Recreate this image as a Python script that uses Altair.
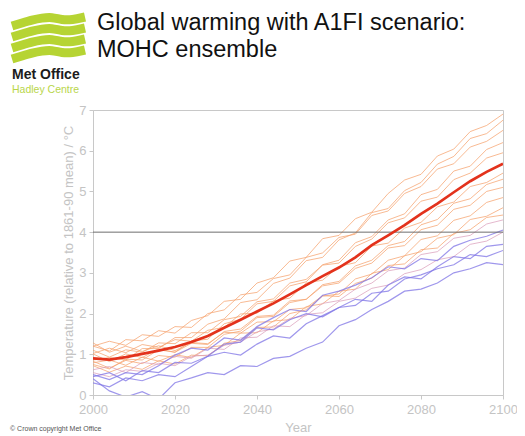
import altair as alt
import pandas as pd

# ---------------- data ----------------
years = [2000, 2004, 2008, 2012, 2016, 2020, 2024, 2028, 2032, 2036, 2040, 2044, 2048,
         2052, 2056, 2060, 2064, 2068, 2072, 2076, 2080, 2084, 2088, 2092, 2096, 2100]

ensemble_mean = [0.90, 0.87, 0.93, 1.01, 1.09, 1.18, 1.30, 1.45, 1.65, 1.85, 2.05, 2.25, 2.47,
                 2.70, 2.92, 3.13, 3.38, 3.68, 3.92, 4.17, 4.45, 4.70, 4.98, 5.25, 5.48, 5.68]

orange_members = {
    "m01": [1.20, 1.08, 1.36, 1.33, 1.58, 1.52, 1.83, 1.95, 2.30, 2.35, 2.75, 2.88, 3.29,
            3.38, 3.84, 3.92, 4.33, 4.49, 4.95, 5.28, 5.42, 5.87, 6.04, 6.47, 6.62, 6.90],
    "m02": [0.86, 0.92, 0.86, 1.14, 1.14, 1.41, 1.41, 1.74, 1.87, 2.27, 2.34, 2.74, 2.87,
            3.30, 3.38, 3.81, 3.98, 4.48, 4.58, 5.02, 5.22, 5.67, 5.86, 6.30, 6.42, 6.75],
    "m03": [1.20, 1.32, 1.22, 1.48, 1.44, 1.68, 1.66, 2.00, 2.09, 2.46, 2.52, 2.86, 2.95,
            3.38, 3.49, 3.87, 3.95, 4.41, 4.52, 4.95, 5.12, 5.55, 5.68, 6.09, 6.23, 6.50],
    "m04": [0.75, 0.64, 0.88, 0.86, 1.11, 1.05, 1.33, 1.37, 1.75, 1.86, 2.24, 2.30, 2.68,
            2.78, 3.20, 3.31, 3.74, 3.89, 4.30, 4.45, 4.92, 5.05, 5.50, 5.62, 6.03, 6.20],
    "m05": [1.10, 0.93, 1.11, 1.05, 1.28, 1.26, 1.53, 1.53, 1.85, 1.93, 2.29, 2.36, 2.75,
            2.84, 3.19, 3.24, 3.65, 3.83, 4.23, 4.35, 4.76, 4.86, 5.29, 5.45, 5.82, 5.95],
    "m06": [1.02, 1.15, 1.04, 1.24, 1.17, 1.36, 1.32, 1.59, 1.66, 1.99, 2.01, 2.31, 2.38,
            2.75, 2.82, 3.16, 3.25, 3.66, 3.73, 4.10, 4.24, 4.62, 4.74, 5.12, 5.22, 5.45],
    "m07": [0.83, 0.66, 0.85, 0.77, 0.97, 0.93, 1.17, 1.17, 1.49, 1.57, 1.90, 1.93, 2.27,
            2.35, 2.71, 2.79, 3.17, 3.31, 3.67, 3.77, 4.18, 4.31, 4.71, 4.82, 5.17, 5.30],
    "m08": [1.01, 0.82, 1.01, 0.92, 1.13, 1.05, 1.27, 1.24, 1.56, 1.62, 1.93, 1.96, 2.31,
            2.35, 2.68, 2.75, 3.11, 3.24, 3.61, 3.67, 4.06, 4.17, 4.56, 4.66, 5.00, 5.10],
    "m09": [0.72, 0.56, 0.71, 0.63, 0.84, 0.76, 0.98, 0.96, 1.27, 1.34, 1.66, 1.67, 2.00,
            2.09, 2.43, 2.48, 2.85, 2.97, 3.31, 3.42, 3.82, 3.91, 4.29, 4.40, 4.73, 4.85],
    "m10": [0.79, 0.86, 0.73, 0.93, 0.83, 0.99, 0.92, 1.17, 1.22, 1.52, 1.53, 1.82, 1.85,
            2.17, 2.24, 2.55, 2.60, 2.99, 3.08, 3.42, 3.52, 3.85, 3.94, 4.31, 4.39, 4.60],
    "m11": [1.28, 1.05, 1.20, 1.07, 1.21, 1.09, 1.29, 1.26, 1.54, 1.52, 1.79, 1.80, 2.10,
            2.14, 2.44, 2.42, 2.74, 2.87, 3.18, 3.22, 3.57, 3.61, 3.97, 4.06, 4.36, 4.42],
}

pink_members = {
    "p01": [0.55, 0.45, 0.62, 0.58, 0.78, 0.72, 0.95, 0.98, 1.22, 1.30, 1.55, 1.62, 1.88,
            1.95, 2.25, 2.32, 2.60, 2.75, 3.05, 3.12, 3.45, 3.52, 3.85, 3.92, 4.20, 4.30],
    "p02": [0.62, 0.70, 0.55, 0.80, 0.75, 0.95, 0.90, 1.15, 1.12, 1.40, 1.42, 1.70, 1.68,
            1.98, 2.02, 2.30, 2.38, 2.62, 2.70, 2.98, 3.08, 3.32, 3.40, 3.70, 3.78, 4.00],
}

blue_members = {
    "b01": [0.50, 0.38, 0.55, 0.50, 0.72, 0.98, 1.15, 1.10, 1.40, 1.35, 1.68, 1.90, 2.10,
            2.05, 2.45, 2.55, 2.70, 2.88, 3.15, 3.10, 3.35, 3.30, 3.65, 3.80, 3.90, 4.05],
    "b02": [0.30, 0.20, 0.42, 0.35, 0.50, 0.45, 0.70, 0.95, 1.25, 1.30, 1.65, 1.60, 1.85,
            2.00, 1.92, 2.15, 2.35, 2.30, 2.70, 2.90, 2.85, 3.15, 3.40, 3.35, 3.65, 3.70],
    "b03": [0.40, 0.10, -0.05, 0.08, -0.10, 0.30, 0.42, 0.55, 0.50, 0.72, 0.70, 0.90, 0.95,
            1.15, 1.30, 1.70, 1.85, 2.10, 2.30, 2.55, 2.60, 2.75, 3.00, 3.10, 3.25, 3.20],
    "b04": [0.45, 0.55, 0.35, 0.60, 0.55, 0.80, 0.78, 0.95, 1.05, 0.98, 1.25, 1.45, 1.40,
            1.75, 1.95, 2.15, 2.20, 2.50, 2.55, 2.85, 2.95, 3.10, 3.20, 3.45, 3.40, 3.55],
}

threshold = [4]
x_ticks = [2000, 2020, 2040, 2060, 2080, 2100]
y_ticks = [0, 1, 2, 3, 4, 5, 6, 7]

title_lines = ["Global warming with A1FI scenario:", "MOHC ensemble"]
y_title = "Temperature (relative to 1861-90 mean) / \u00b0C"
x_title = "Year"

# logo (decorative wavy bands), in logo-local units
logo_x = [0, 10, 20, 30, 40, 50, 60, 73]
logo_bands = {
    "w0": [13, 10, 7, 5, 4, 7, 7, 4],
    "w1": [24, 21, 18, 16, 15, 18, 18, 15],
    "w2": [35, 32, 29, 27, 26, 29, 29, 26],
    "w3": [46, 43, 40, 38, 37, 40, 40, 37],
}

# ---------------- tables ----------------
def long_table(members):
    rows = []
    for name, vals in members.items():
        for yr, v in zip(years, vals):
            rows.append({"member": name, "year": yr, "temp": v})
    return pd.DataFrame(rows)

df_orange = long_table(orange_members)
df_pink = long_table(pink_members)
df_blue = long_table(blue_members)
df_mean = pd.DataFrame({"year": years, "temp": ensemble_mean})
df_rule = pd.DataFrame({"temp": threshold})
df_logo = pd.DataFrame([{"band": b, "lx": x, "ly": y}
                        for b, ys in logo_bands.items() for x, y in zip(logo_x, ys)])

AX_GREY = "#c4c4c4"
FONT = "Liberation Sans"

xscale = alt.Scale(domain=[2000, 2100], nice=False, zero=False)
yscale = alt.Scale(domain=[0, 7], nice=False, zero=False)

x_axis = alt.Axis(values=x_ticks, format="d", title=x_title, tickSize=4,
                  labelPadding=4, titlePadding=5, labelFontSize=13,
                  titleFontSize=13, labelFlush=False)
y_axis = alt.Axis(values=y_ticks, title=y_title, tickSize=4, labelPadding=3,
                  titlePadding=3, labelFontSize=13, titleFontSize=13)

x_enc = alt.X("year:Q", scale=xscale, axis=x_axis)
y_enc = alt.Y("temp:Q", scale=yscale, axis=y_axis)

orange = alt.Chart(df_orange).mark_line(
    color="#f6a36f", strokeWidth=1, opacity=0.75, clip=True
).encode(x=x_enc, y=y_enc, detail="member:N")

pink = alt.Chart(df_pink).mark_line(
    color="#d99ab8", strokeWidth=1, opacity=0.7, clip=True
).encode(x=x_enc, y=y_enc, detail="member:N")

blue = alt.Chart(df_blue).mark_line(
    color="#7f74e6", strokeWidth=1.2, opacity=0.75, clip=True
).encode(x=x_enc, y=y_enc, detail="member:N")

rule = alt.Chart(df_rule).mark_rule(color="#6e6e6e", strokeWidth=1).encode(y=y_enc)

mean = alt.Chart(df_mean).mark_line(
    color="#e3321c", strokeWidth=2.7, clip=True
).encode(x=x_enc, y=y_enc)

plot = alt.layer(orange, pink, blue, rule, mean)

logo = alt.Chart(df_logo).mark_line(
    color="#b6d433", strokeWidth=9, interpolate="basis", strokeCap="butt"
).encode(
    x=alt.X("lx:Q", scale=alt.Scale(domain=[0, 73], range=[-81, -8]), axis=None),
    y=alt.Y("ly:Q", scale=alt.Scale(domain=[0, 50], range=[-97, -47]), axis=None),
    detail="band:N",
)

def text_layer(txt, x, y, size, color, weight="normal", font=FONT):
    return alt.Chart(pd.DataFrame({"t": [txt]})).mark_text(
        align="left", baseline="alphabetic", fontSize=size, font=font,
        color=color, fontWeight=weight
    ).encode(text="t:N", x=alt.value(x), y=alt.value(y))

t1 = text_layer(title_lines[0], 4, -80, 23.5, "#111111")
t2 = text_layer(title_lines[1], 4, -53, 23.5, "#111111")
t3 = text_layer("Met Office", -81, -31, 14, "#1c1c1c", weight="bold")
t4 = text_layer("Hadley Centre", -81, -17, 10.5, "#b9d64a")
t5 = text_layer("\u00a9 Crown copyright   Met Office", -83, 321, 7, "#555555")

chart = alt.layer(plot, logo, t1, t2, t3, t4, t5).resolve_scale(
    x="independent", y="independent"
).properties(
    width=410, height=285,
    autosize=alt.AutoSizeParams(type="none"),
    padding={"left": 85, "top": 102, "right": 14, "bottom": 41},
    background="white",
).configure_axis(
    labelFont=FONT, titleFont=FONT, labelColor=AX_GREY, titleColor=AX_GREY,
    domainColor="#c8c8c8", tickColor="#c8c8c8", grid=False, titleFontWeight="normal",
).configure_view(stroke="#c8c8c8", strokeWidth=1)

chart.save("out.html", embed_options={"renderer": "svg", "actions": False})
